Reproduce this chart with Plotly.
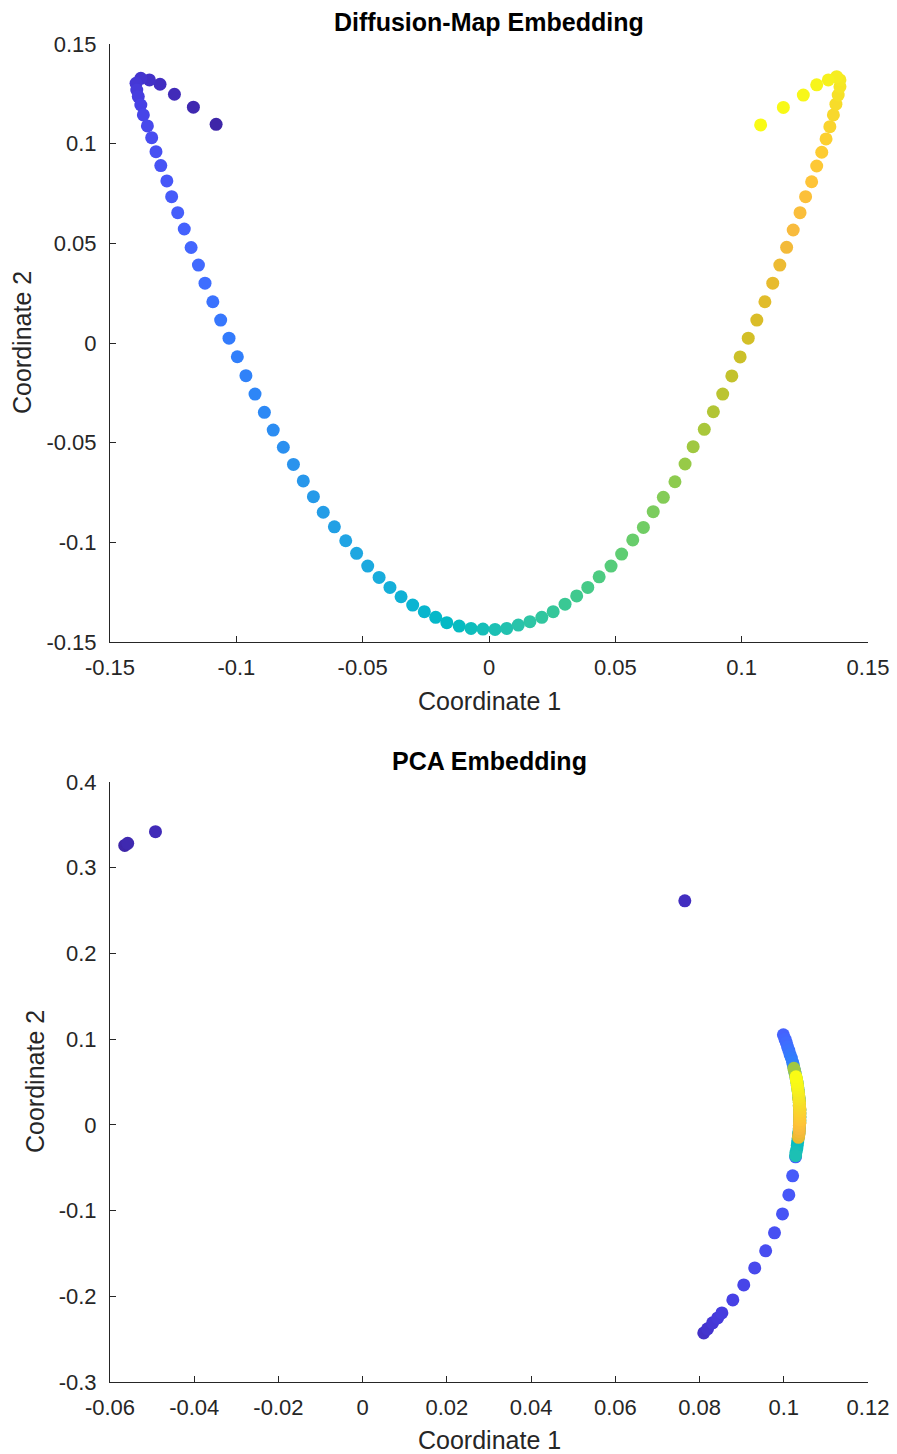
import plotly.graph_objects as go

# ---------------- data ----------------
dm_x = [-0.1080, -0.1170, -0.1245, -0.1302, -0.1344, -0.1378, -0.1397, -0.1394, -0.1388, -0.1378,
        -0.1368, -0.1352, -0.1335, -0.1318, -0.1299, -0.1275, -0.1256, -0.1232, -0.1206, -0.1179,
        -0.1150, -0.1124, -0.1093, -0.1062, -0.1029, -0.0996, -0.0962, -0.0926, -0.0889, -0.0854,
        -0.0814, -0.0774, -0.0735, -0.0695, -0.0656, -0.0612, -0.0567, -0.0524, -0.0480, -0.0435,
        -0.0392, -0.0348, -0.0302, -0.0256, -0.0211, -0.0167, -0.0118, -0.0071, -0.0024,
        0.0024, 0.0070, 0.0116, 0.0162, 0.0209, 0.0254, 0.0301, 0.0347, 0.0391, 0.0436,
        0.0483, 0.0525, 0.0569, 0.0611, 0.0650, 0.0690, 0.0736, 0.0776, 0.0808, 0.0852,
        0.0888, 0.0925, 0.0961, 0.0994, 0.1026, 0.1060, 0.1092, 0.1123, 0.1151, 0.1178,
        0.1204, 0.1231, 0.1253, 0.1277, 0.1297, 0.1317, 0.1334, 0.1349, 0.1363, 0.1373,
        0.1382, 0.1389, 0.1389, 0.1376, 0.1343, 0.1297, 0.1244, 0.1165, 0.1075]
dm_y = [0.1097, 0.1183, 0.1248, 0.1298, 0.1320, 0.1328, 0.1303, 0.1269, 0.1236, 0.1194,
        0.1144, 0.1089, 0.1030, 0.0960, 0.0890, 0.0813, 0.0734, 0.0654, 0.0572, 0.0479,
        0.0391, 0.0300, 0.0207, 0.0115, 0.0024, -0.0069, -0.0164, -0.0256, -0.0348, -0.0437,
        -0.0523, -0.0609, -0.0692, -0.0771, -0.0849, -0.0922, -0.0992, -0.1055, -0.1119, -0.1176,
        -0.1226, -0.1273, -0.1315, -0.1348, -0.1376, -0.1403, -0.1420, -0.1432, -0.1435,
        -0.1437, -0.1432, -0.1415, -0.1398, -0.1376, -0.1348, -0.1310, -0.1269, -0.1226, -0.1173,
        -0.1119, -0.1059, -0.0988, -0.0925, -0.0846, -0.0774, -0.0696, -0.0607, -0.0520, -0.0433,
        -0.0345, -0.0256, -0.0165, -0.0070, 0.0024, 0.0115, 0.0207, 0.0300, 0.0391, 0.0480,
        0.0567, 0.0654, 0.0734, 0.0809, 0.0888, 0.0957, 0.1024, 0.1085, 0.1144, 0.1198,
        0.1244, 0.1286, 0.1320, 0.1336, 0.1320, 0.1295, 0.1244, 0.1182, 0.1094]

pca_x = [-0.0565, -0.0558, -0.0492, 0.0765,
         0.0810, 0.0819, 0.0831, 0.0843, 0.0853, 0.0879, 0.0905, 0.0931, 0.0957, 0.0978,
         0.0997, 0.1012, 0.1021, 0.1028,
         0.0999, 0.1003, 0.1006, 0.1009, 0.1012, 0.1015, 0.1018, 0.1021, 0.1023, 0.1025,
         0.1027, 0.1029, 0.1031, 0.1032, 0.1034, 0.1035, 0.1036, 0.1037, 0.1037, 0.1038,
         0.1038, 0.1038, 0.1038,
         0.1037, 0.1036, 0.1035, 0.1034, 0.1033, 0.1032, 0.1031, 0.1029, 0.1028,
         0.1036, 0.1037, 0.1037, 0.1038, 0.1038, 0.1038, 0.1038, 0.1037, 0.1037, 0.1036,
         0.1035, 0.1034, 0.1033, 0.1032, 0.1030, 0.1028, 0.1026, 0.1024,
         0.1036, 0.1037, 0.1037, 0.1038, 0.1038, 0.1038, 0.1038, 0.1038,
         0.1035, 0.1036, 0.1037, 0.1037, 0.1037, 0.1038, 0.1038, 0.1038, 0.1038, 0.1038,
         0.1038, 0.1037, 0.1037, 0.1036, 0.1036,
         0.1035, 0.1034, 0.1033, 0.1032, 0.1031, 0.1030, 0.1029]
pca_y = [0.3260, 0.3285, 0.3420, 0.2614,
         -0.2427, -0.2380, -0.2310, -0.2252, -0.2194, -0.2042, -0.1867, -0.1669, -0.1470, -0.1260,
         -0.1039, -0.0817, -0.0595, -0.0373,
         0.105, 0.100, 0.096, 0.091, 0.087, 0.082, 0.078, 0.073, 0.069, 0.064,
         0.060, 0.055, 0.050, 0.046, 0.041, 0.037, 0.032, 0.028, 0.023, 0.018,
         0.014, 0.009, 0.005,
         -0.004, -0.008, -0.012, -0.016, -0.020, -0.024, -0.028, -0.032, -0.036,
         -0.010, -0.0055, -0.001, 0.0035, 0.008, 0.0125, 0.017, 0.0215, 0.026, 0.0305,
         0.035, 0.0395, 0.044, 0.0485, 0.053, 0.0575, 0.062, 0.066,
         0.030, 0.026, 0.022, 0.018, 0.014, 0.010, 0.006, 0.002,
         -0.0146, -0.0112, -0.0078, -0.0044, -0.001, 0.0024, 0.0058, 0.0092, 0.0126, 0.016,
         0.0194, 0.0228, 0.0262, 0.0296, 0.033,
         0.0365, 0.040, 0.0435, 0.047, 0.050, 0.053, 0.056]

point_index = list(range(len(dm_x)))

dm_xticks = [-0.15, -0.1, -0.05, 0, 0.05, 0.1, 0.15]
dm_xticklabels = ["-0.15", "-0.1", "-0.05", "0", "0.05", "0.1", "0.15"]
dm_yticks = [-0.15, -0.1, -0.05, 0, 0.05, 0.1, 0.15]
dm_yticklabels = ["-0.15", "-0.1", "-0.05", "0", "0.05", "0.1", "0.15"]
pca_xticks = [-0.06, -0.04, -0.02, 0, 0.02, 0.04, 0.06, 0.08, 0.1, 0.12]
pca_xticklabels = ["-0.06", "-0.04", "-0.02", "0", "0.02", "0.04", "0.06", "0.08", "0.1", "0.12"]
pca_yticks = [-0.3, -0.2, -0.1, 0, 0.1, 0.2, 0.3, 0.4]
pca_yticklabels = ["-0.3", "-0.2", "-0.1", "0", "0.1", "0.2", "0.3", "0.4"]

# ---------------- style ----------------
PARULA_RGB = [
    (0.2422, 0.1504, 0.6603), (0.2578, 0.1818, 0.7511), (0.2706, 0.2147, 0.8364),
    (0.2783, 0.2559, 0.8991), (0.2813, 0.3006, 0.9414), (0.2795, 0.3447, 0.9717),
    (0.2699, 0.3892, 0.9906), (0.2440, 0.4358, 0.9988), (0.1963, 0.4847, 0.9892),
    (0.1786, 0.5289, 0.9682), (0.1687, 0.5703, 0.9359), (0.1460, 0.6091, 0.9079),
    (0.1248, 0.6459, 0.8883), (0.0952, 0.6798, 0.8598), (0.0297, 0.7082, 0.8163),
    (0.0067, 0.7312, 0.7660), (0.0964, 0.7500, 0.7120), (0.1717, 0.7670, 0.6554),
    (0.2161, 0.7843, 0.5923), (0.2906, 0.7973, 0.5188), (0.3909, 0.8029, 0.4354),
    (0.5044, 0.7993, 0.3480), (0.6174, 0.7876, 0.2612), (0.7242, 0.7698, 0.1910),
    (0.8203, 0.7498, 0.1535), (0.9035, 0.7330, 0.1774), (0.9728, 0.7298, 0.2394),
    (0.9970, 0.7659, 0.2199), (0.9892, 0.8136, 0.1885), (0.9676, 0.8639, 0.1643),
    (0.9597, 0.9135, 0.1423), (0.9691, 0.9606, 0.1064), (0.9769, 0.9839, 0.0805),
]
n_c = len(PARULA_RGB)
PARULA = [[k / (n_c - 1), "rgb(%d,%d,%d)" % (round(r * 255), round(g * 255), round(b * 255))]
          for k, (r, g, b) in enumerate(PARULA_RGB)]

W, H = 897, 1454
AX = "#262626"
FONT = "Liberation Sans, Arial, Helvetica, sans-serif"
TICK_FS = 22
LABEL_FS = 25
TITLE_FS = 25

def px_x(p):
    return p / W

def px_y(p):
    return 1 - p / H

marker_common = dict(size=13, colorscale=PARULA, cmin=0, cmax=len(dm_x) - 1, line=dict(width=0))

fig = go.Figure()
fig.add_trace(go.Scatter(x=dm_x, y=dm_y, mode="markers", xaxis="x", yaxis="y",
                         marker=dict(color=point_index, **marker_common),
                         showlegend=False, hoverinfo="skip", cliponaxis=False))
fig.add_trace(go.Scatter(x=pca_x, y=pca_y, mode="markers", xaxis="x2", yaxis="y2",
                         marker=dict(color=point_index, **marker_common),
                         showlegend=False, hoverinfo="skip", cliponaxis=False))

axis_common = dict(showline=True, linecolor=AX, linewidth=1, mirror=False,
                   ticks="inside", ticklen=6, tickcolor=AX, tickwidth=1,
                   showgrid=False, zeroline=False, automargin=False,
                   tickfont=dict(family=FONT, size=TICK_FS, color=AX))

x_dom = [px_x(110), px_x(868)]
fig.update_layout(
    template="plotly_white",
    width=W, height=H, margin=dict(l=0, r=0, t=0, b=0, autoexpand=False),
    paper_bgcolor="white", plot_bgcolor="white",
    xaxis=dict(domain=x_dom, anchor="y", range=[-0.15, 0.15],
               tickvals=dm_xticks, ticktext=dm_xticklabels, ticklabelstandoff=6, **axis_common),
    yaxis=dict(domain=[px_y(642), px_y(44)], anchor="x", range=[-0.15, 0.15],
               tickvals=dm_yticks, ticktext=dm_yticklabels, ticklabelstandoff=8, **axis_common),
    xaxis2=dict(domain=x_dom, anchor="y2", range=[-0.06, 0.12],
                tickvals=pca_xticks, ticktext=pca_xticklabels, ticklabelstandoff=6, **axis_common),
    yaxis2=dict(domain=[px_y(1382), px_y(782)], anchor="x2", range=[-0.3, 0.4],
                tickvals=pca_yticks, ticktext=pca_yticklabels, ticklabelstandoff=8, **axis_common),
)

ann_font = dict(family=FONT, size=LABEL_FS, color=AX)
title_font = dict(family=FONT, size=TITLE_FS, color="black")
annotations = [
    dict(text="<b>Diffusion-Map Embedding</b>", x=px_x(489), y=px_y(22), font=title_font),
    dict(text="<b>PCA Embedding</b>", x=px_x(489), y=px_y(761), font=title_font),
    dict(text="Coordinate 1", x=px_x(489), y=px_y(701), font=ann_font),
    dict(text="Coordinate 1", x=px_x(489), y=px_y(1440), font=ann_font),
    dict(text="Coordinate 2", x=px_x(22), y=px_y(343), font=ann_font, textangle=-90),
    dict(text="Coordinate 2", x=px_x(35), y=px_y(1082), font=ann_font, textangle=-90),
]
for a in annotations:
    a.update(xref="paper", yref="paper", showarrow=False, xanchor="center", yanchor="middle")
fig.update_layout(annotations=annotations)

fig.write_html("out.html")
